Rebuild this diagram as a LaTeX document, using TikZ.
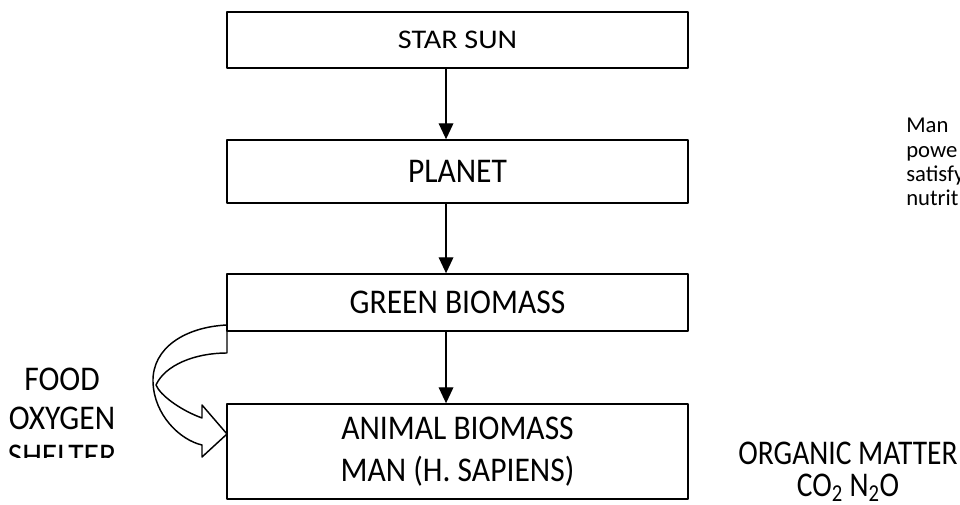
\documentclass[tikz,border=0pt]{standalone}
\usepackage{fontspec}
\setmainfont{Carlito}
\newfontfamily\flowfont{Carlito}[FakeStretch=0.91]
\newfontfamily\sunfont{Carlito}[FakeStretch=1.12]
\newfontfamily\narrowfont{Carlito}[FakeStretch=0.85]
\usetikzlibrary{arrows.meta}

\begin{document}
\begin{tikzpicture}[line cap=round,line join=round,>={Triangle[width=11pt,length=12pt]},x=0.75pt,y=-0.75pt,
    flowbox/.style={draw,line width=1.1pt,minimum width=345.75pt,inner sep=0pt,align=center},
    bigtext/.style={font=\flowfont\fontsize{26}{31.5}\selectfont,inner sep=0pt},
    sidetext/.style={font=\narrowfont\fontsize{26}{31.5}\selectfont,inner sep=0pt},
    smalltext/.style={font=\fontsize{17}{20.5}\selectfont,inner sep=0pt}]
\useasboundingbox (0,0) rectangle (960,505);
\node[flowbox,minimum height=42pt,font=\sunfont\fontsize{20.2}{24}\selectfont] (sun) at (457.5,40) {STAR SUN};
\node[flowbox,bigtext,minimum height=47.25pt] (planet) at (457.5,171.5) {PLANET};
\node[flowbox,bigtext,minimum height=42.75pt] (green) at (457.5,302.5) {GREEN BIOMASS};
\node[flowbox,bigtext,minimum height=71.25pt] (animal) at (457.5,451.5) {ANIMAL BIOMASS\\MAN (H. SAPIENS)};
\draw [->,line width=1.1pt] ([xshift=-8.6pt]sun.south) -- ([xshift=-8.6pt]planet.north);
\draw [->,line width=1.1pt] ([xshift=-8.6pt]planet.south) -- ([xshift=-8.6pt]green.north);
\draw [->,line width=1.1pt] ([xshift=-8.6pt]green.south) -- ([xshift=-8.6pt]animal.north);
\draw [line width=1.1pt] (227,325) .. controls (185,327) and (152,348) .. (153,382)
      .. controls (154,415) and (180,440) .. (202,445) -- (202,457) -- (227,434) -- (202,405) -- (202,418)
      .. controls (180,410) and (160,395) .. (156,385) .. controls (165,365) and (195,353) .. (227,353) -- cycle;
\begin{scope}
\clip (0,300) rectangle (140,458);
\node[bigtext,anchor=base] (food) at (62,390.7) {FOOD};
\node[bigtext,anchor=base] (oxygen) at (62,430) {OXYGEN};
\node[bigtext,anchor=base] (shelter) at (62,468) {SHELTER};
\end{scope}
\node[sidetext,anchor=base] (organic) at (848,465) {ORGANIC MATTER};
\node[sidetext,anchor=base] (gases) at (848,497) {CO\textsubscript{2} N\textsubscript{2}O};
\begin{scope}
\clip (880,100) rectangle (960,240);
\node[smalltext,anchor=base west] (man) at (906,133) {Man};
\node[smalltext,anchor=base west] (power) at (906,158) {powe};
\node[smalltext,anchor=base west] (satisfy) at (906,182) {satisfy};
\node[smalltext,anchor=base west] (nutrit) at (906,206) {nutrit};
\end{scope}
\end{tikzpicture}
\end{document}
